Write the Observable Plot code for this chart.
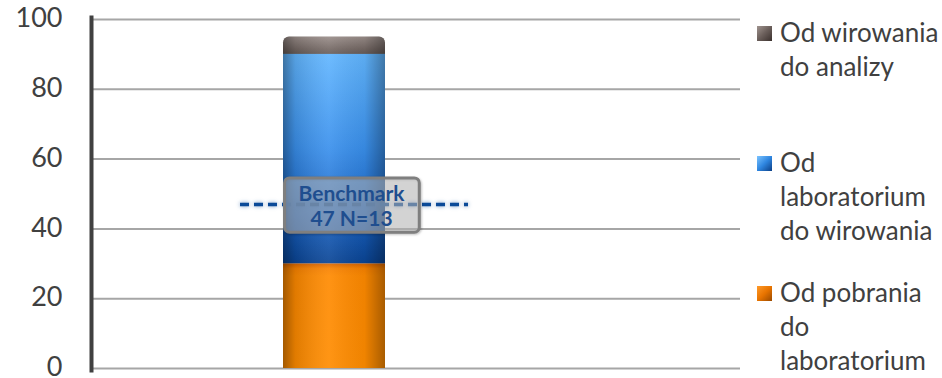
<!DOCTYPE html>
<html>
<head>
<meta charset="utf-8">
<script src="https://cdn.jsdelivr.net/npm/d3@7"></script>
<script src="https://cdn.jsdelivr.net/npm/@observablehq/plot@0.6"></script>
<style>
  body { margin: 0; background: #fff; }
  #chart { position: relative; width: 942px; height: 378px; font-family: Lato, "Open Sans", sans-serif; overflow: hidden; }
  #chart svg { position: absolute; left: 0; top: 0; }
  .legend-item { position: absolute; left: 757px; color: #404040; font-size: 26px; line-height: 34px; white-space: nowrap; }
  .legend-item .swatch { position: absolute; left: 0; top: 11px; width: 15px; height: 15px; box-sizing: border-box; }
  .legend-item .label { margin-left: 23px; }
</style>
</head>
<body>
<div id="chart"></div>
<script>
// Stacked segments, bottom to top
const category = "Czas";
const series = ["Od pobrania do laboratorium", "Od laboratorium do wirowania", "Od wirowania do analizy"];
const values = [30, 60, 5];
const legendLines = [
  ["Od pobrania", "do", "laboratorium"],
  ["Od", "laboratorium", "do wirowania"],
  ["Od wirowania", "do analizy"]
];
const benchmark = 47;
const benchmarkN = 13;
const benchmarkLabel = "Benchmark";
const yTicks = [0, 20, 40, 60, 80, 100];

const fills = ["url(#fill-orange)", "url(#fill-blue)", "url(#fill-gray)"];
const swatches = [
  "linear-gradient(135deg, #ff9a2a 0%, #e87400 50%, #9a4a00 100%)",
  "linear-gradient(135deg, #7cc4ff 0%, #2f86e0 50%, #0b3f86 100%)",
  "linear-gradient(135deg, #a0948f 0%, #6a5e5a 50%, #3a302d 100%)"
];

// cumulative positions for each segment
const ends = d3.cumsum(values);
const rows = series.map((s, i) => ({
  cat: category, series: s, y1: ends[i] - values[i], y2: ends[i], fill: fills[i], top: i === series.length - 1
}));
const lower = rows.filter(d => !d.top);
const upper = rows.filter(d => d.top);

const plot = Plot.plot({
  width: 742,
  height: 378,
  marginLeft: 91,
  marginRight: 2,
  marginTop: 19,
  marginBottom: 10,
  style: { fontFamily: "Lato, 'Open Sans', sans-serif", color: "#404040", background: "transparent" },
  x: { type: "band", domain: [category], range: [283, 385], padding: 0, axis: null },
  y: { domain: [0, 100], axis: null },
  marks: [
    Plot.gridY(yTicks, { stroke: "#a6a6a6", strokeOpacity: 1, strokeWidth: 2 }),
    Plot.axisY({ ticks: yTicks, tickSize: 0, tickPadding: 29, fontSize: 27, fill: "#404040", dy: -1 }),
    // rounded cap segment, drawn first so the segment below hides its lower corners
    Plot.barY(upper, { x: "cat", y1: "y1", y2: "y2", fill: "url(#fill-gray)", rx: 6, insetBottom: -10 }),
    Plot.barY(upper, { x: "cat", y1: "y1", y2: "y2", fill: "url(#shade)", rx: 6, insetBottom: -10 }),
    Plot.barY(lower, { x: "cat", y1: "y1", y2: "y2", fill: "fill" }),
    Plot.barY(lower, { x: "cat", y1: "y1", y2: "y2", fill: "url(#shade)" }),
    Plot.frame({ anchor: "left", stroke: "#404040", strokeWidth: 4, insetTop: -2, insetBottom: -2 }),
    Plot.ruleY([benchmark], {
      stroke: "#0b4a98", strokeWidth: 3.5, strokeDasharray: "9,5",
      insetLeft: 149, insetRight: 272,
      imageFilter: "drop-shadow(0 0 2px rgba(11,74,152,0.55))"
    }),
    Plot.text([benchmark], {
      x: () => category, y: d => d,
      text: d => `${benchmarkLabel}\n${d} N=${benchmarkN}`,
      dx: 17, dy: 1, lineHeight: 1.2, fontSize: 21, fontWeight: "bold", fill: "#1f4e8f",
      className: "bench-label"
    })
  ],
  color: { type: "identity" }
});

const chart = document.getElementById("chart");
chart.appendChild(plot);

// gradients used by the bar segments
d3.select(plot).insert("defs", ":first-child").html(`
  <linearGradient id="fill-orange" x1="0" y1="0" x2="0" y2="1">
    <stop offset="0" stop-color="#d86400"/>
    <stop offset="0.05" stop-color="#f88200"/>
    <stop offset="0.12" stop-color="#ff8a00"/>
    <stop offset="1" stop-color="#ff8c00"/>
  </linearGradient>
  <linearGradient id="fill-blue" x1="0" y1="0" x2="0" y2="1">
    <stop offset="0" stop-color="#62b6ff"/>
    <stop offset="0.45" stop-color="#3a90ec"/>
    <stop offset="0.78" stop-color="#1a64c4"/>
    <stop offset="1" stop-color="#0a4494"/>
  </linearGradient>
  <linearGradient id="fill-gray" x1="0" y1="0" x2="0" y2="1">
    <stop offset="0" stop-color="#9a8e8a"/>
    <stop offset="0.45" stop-color="#756965"/>
    <stop offset="1" stop-color="#4f4542"/>
  </linearGradient>
  <linearGradient id="shade" x1="0" y1="0" x2="1" y2="0">
    <stop offset="0" stop-color="#000" stop-opacity="0.36"/>
    <stop offset="0.12" stop-color="#000" stop-opacity="0.12"/>
    <stop offset="0.45" stop-color="#fff" stop-opacity="0.08"/>
    <stop offset="0.8" stop-color="#000" stop-opacity="0.06"/>
    <stop offset="1" stop-color="#000" stop-opacity="0.34"/>
  </linearGradient>
`);

// translucent box behind the benchmark label, sized from the text itself
const labelGroup = plot.querySelector("g.bench-label") || plot.querySelector("g[aria-label=text]");
const labelText = labelGroup.querySelector("text");
const bb = labelText.getBBox();
const padX = 14, padY = 2;
const box = document.createElementNS("http://www.w3.org/2000/svg", "rect");
box.setAttribute("x", bb.x - padX);
box.setAttribute("y", bb.y - padY);
box.setAttribute("width", bb.width + 2 * padX);
box.setAttribute("height", bb.height + 2 * padY);
box.setAttribute("rx", 5);
box.setAttribute("fill", "rgba(200,200,200,0.5)");
box.setAttribute("stroke", "#7f7f7f");
box.setAttribute("stroke-width", 3);
box.setAttribute("style", "filter: drop-shadow(1px 1px 1px rgba(0,0,0,0.25))");
const transform = labelText.getAttribute("transform");
if (transform) box.setAttribute("transform", transform);
labelGroup.insertBefore(box, labelText);

// legend, top entry first
const legendTops = [275, 145, 15];
series.forEach((s, i) => {
  const item = document.createElement("div");
  item.className = "legend-item";
  item.style.top = legendTops[i] + "px";
  const sw = document.createElement("div");
  sw.className = "swatch";
  sw.style.background = swatches[i];
  item.appendChild(sw);
  const label = document.createElement("div");
  label.className = "label";
  label.innerHTML = legendLines[i].join("<br>");
  item.appendChild(label);
  chart.appendChild(item);
});
</script>
</body>
</html>
